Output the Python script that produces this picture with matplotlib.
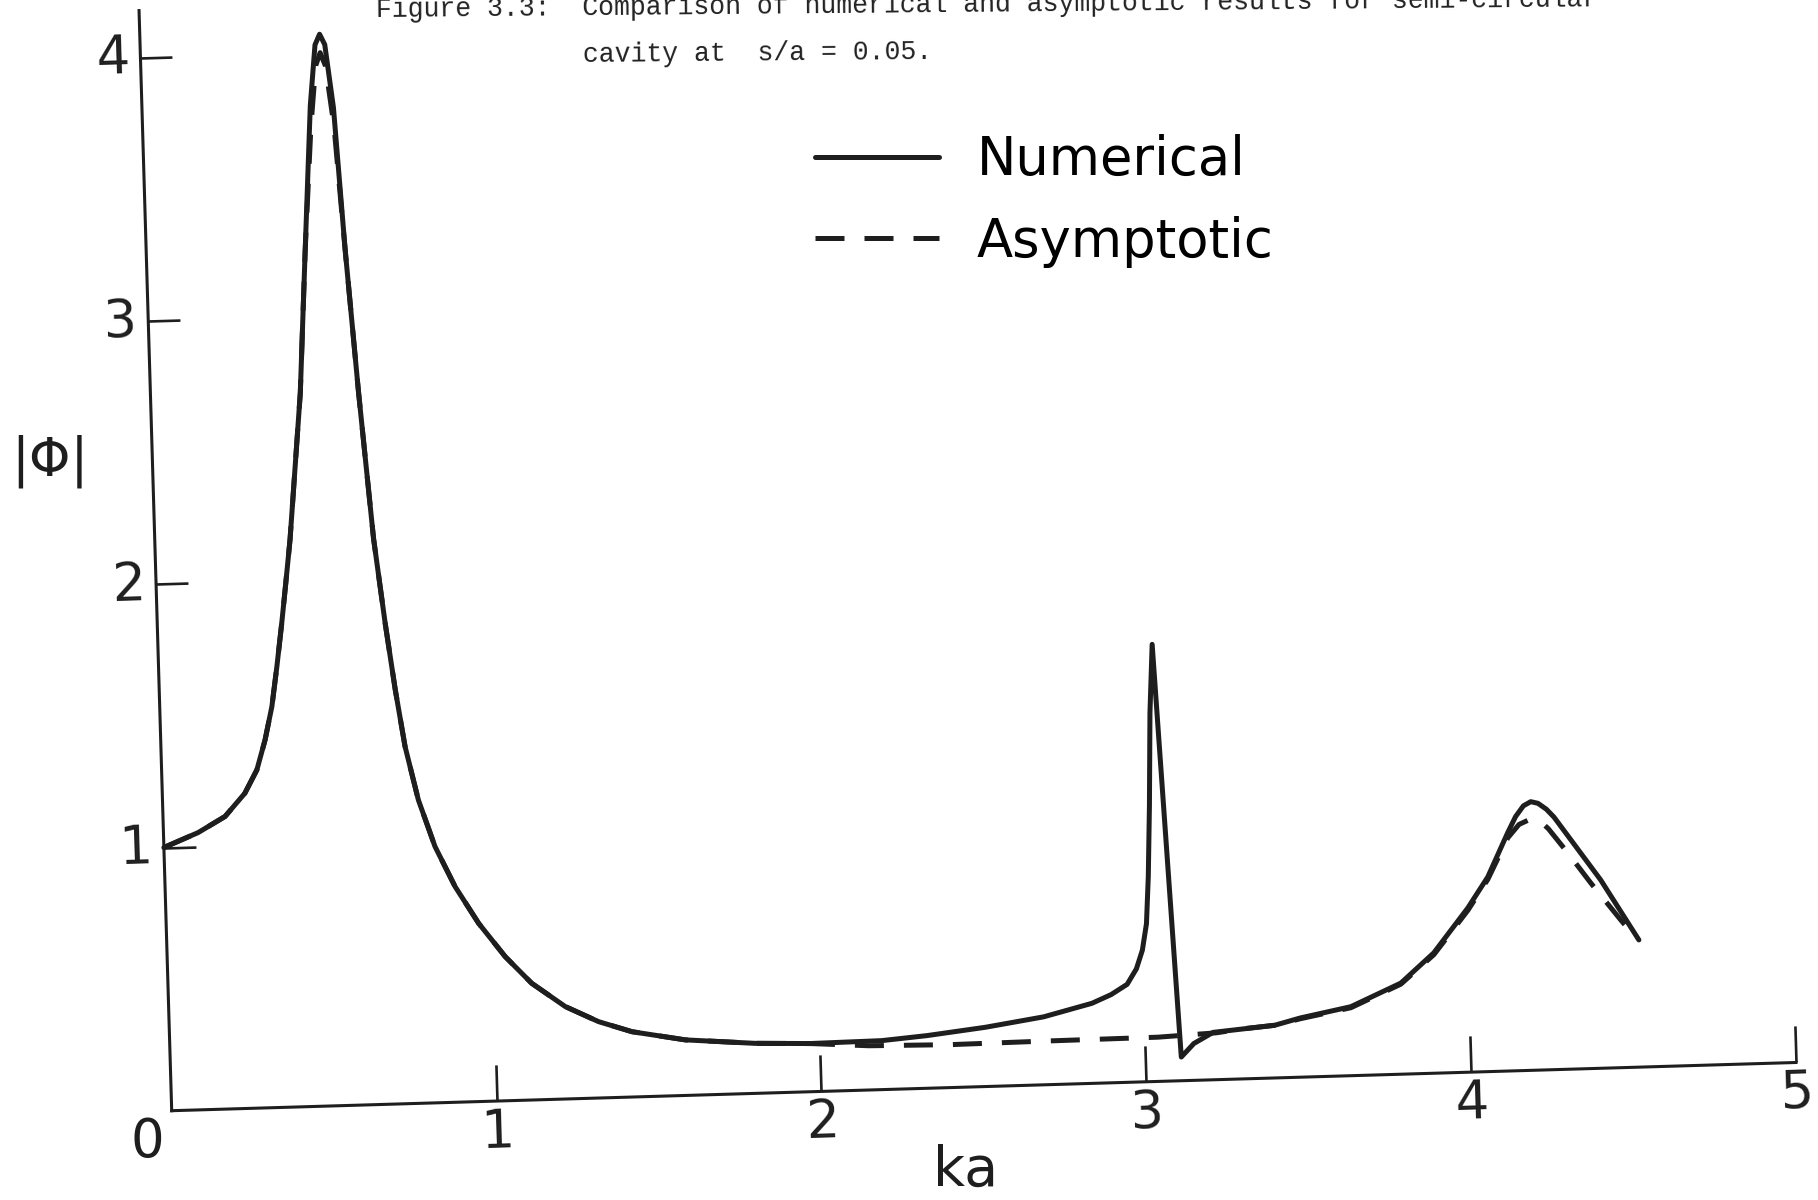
"""Figure 3.3 -- numerical vs asymptotic |phi| for a semi-circular cavity, s/a = 0.05.

The source is a hand-lettered plot that was scanned slightly turned, so the axes are a
floating (rotated) axisartist frame instead of a plain rectangle.
"""
import matplotlib

matplotlib.use("Agg")
import matplotlib.pyplot as plt
from matplotlib.transforms import Affine2D
import mpl_toolkits.axisartist.floating_axes as floating_axes
from mpl_toolkits.axisartist.grid_finder import DictFormatter, FixedLocator

# (ka, |phi|)
KA_NUM = [0.00, 0.107, 0.191, 0.254, 0.293, 0.321, 0.345, 0.364, 0.383, 0.399, 0.416,
          0.461, 0.489, 0.518, 0.538, 0.553, 0.568, 0.589, 0.612, 0.640, 0.673, 0.701,
          0.726, 0.751, 0.787, 0.834, 0.892, 0.961, 1.04, 1.119, 1.22, 1.321, 1.423, 1.586,
          1.80, 1.97, 2.19, 2.33, 2.51, 2.69, 2.84, 2.90, 2.95, 2.98, 3.00, 3.015, 3.025,
          3.035, 3.045, 3.058, 3.11, 3.15, 3.21, 3.40, 3.48, 3.636, 3.792, 3.896, 4.005,
          4.069, 4.134, 4.16, 4.185, 4.208, 4.23, 4.255, 4.278, 4.416, 4.528]
PHI_NUM = [1.00, 1.053, 1.111, 1.197, 1.284, 1.397, 1.523, 1.674, 1.839, 1.99, 2.154,
           2.71, 3.25, 3.80, 4.03, 4.07, 4.03, 3.79, 3.25, 2.71, 2.15, 1.827,
           1.573, 1.356, 1.152, 0.973, 0.819, 0.677, 0.547, 0.443, 0.351, 0.29, 0.248, 0.211,
           0.19, 0.183, 0.186, 0.20, 0.225, 0.258, 0.304, 0.335, 0.372, 0.43, 0.50, 0.60, 0.78,
           1.05, 1.40, 1.66, 0.09, 0.14, 0.18, 0.20, 0.225, 0.262, 0.346, 0.457, 0.624,
           0.739, 0.904, 0.965, 1.005, 1.02, 1.013, 0.99, 0.959, 0.715, 0.483]

KA_ASY = [0.00, 0.107, 0.191, 0.254, 0.293, 0.321, 0.345, 0.364, 0.383, 0.399, 0.416,
          0.461, 0.489, 0.518, 0.538, 0.553, 0.568, 0.589, 0.612, 0.640, 0.673, 0.701,
          0.726, 0.751, 0.787, 0.834, 0.892, 0.961, 1.04, 1.119, 1.22, 1.321, 1.423, 1.586,
          1.80, 1.97, 2.15, 2.40, 2.70, 3.04, 3.22, 3.30, 3.40, 3.48, 3.636, 3.792, 3.896,
          4.005, 4.069, 4.134, 4.17, 4.208, 4.235, 4.26, 4.317, 4.385, 4.474, 4.50]
PHI_ASY = [1.00, 1.053, 1.111, 1.197, 1.284, 1.397, 1.523, 1.674, 1.839, 1.99, 2.154,
           2.71, 3.25, 3.72, 3.95, 4.00, 3.95, 3.72, 3.25, 2.71, 2.15, 1.827,
           1.573, 1.356, 1.152, 0.973, 0.819, 0.677, 0.547, 0.443, 0.351, 0.29, 0.248, 0.211,
           0.19, 0.183, 0.168, 0.163, 0.166, 0.168, 0.178, 0.19, 0.20, 0.222, 0.258, 0.342,
           0.45, 0.615, 0.73, 0.885, 0.935, 0.955, 0.945, 0.915, 0.822, 0.705, 0.561, 0.52]

X_TICKS = [1, 2, 3, 4, 5]
Y_TICKS = [1, 2, 3, 4]
TITLE_1 = "Figure 3.3:  Comparison of numerical and asymptotic results for semi-circular"
TITLE_2 = "cavity at  s/a = 0.05."

W, H, DPI = 1818, 1200, 100
ORIGIN = (171.7, H - 1110.7)   # pixel spot of (0, 0), measured from bottom-left
UNIT_X, UNIT_Y = 325.0, 263.3  # pixels per data unit
TILT = 1.7                     # degrees the scanned plot is turned
X_MAX, Y_MAX = 5.0, 4.18
INK = "#1e1e1e"
LETTERING = ["DejaVu Sans"]
LW = 3.6

fig = plt.figure(figsize=(W / DPI, H / DPI), dpi=DPI)
tr = Affine2D().scale(UNIT_X, UNIT_Y).rotate_deg(TILT)
helper = floating_axes.GridHelperCurveLinear(
    tr, extremes=(0, X_MAX, 0, Y_MAX),
    grid_locator1=FixedLocator(X_TICKS), grid_locator2=FixedLocator(Y_TICKS),
    tick_formatter1=DictFormatter({v: str(v) for v in X_TICKS}),
    tick_formatter2=DictFormatter({v: str(v) for v in Y_TICKS}))

# floating axes keep aspect 1 and pad the limits by 2%; size the box so 1 unit = 1 pixel
corners = tr.transform([(0, 0), (X_MAX, 0), (0, Y_MAX), (X_MAX, Y_MAX)])
(x0, y0), (x1, y1) = corners.min(axis=0), corners.max(axis=0)
bw, bh = 1.02 * (x1 - x0), 1.02 * (y1 - y0)
cx, cy = ORIGIN[0] + (x0 + x1) / 2, ORIGIN[1] + (y0 + y1) / 2
ax = fig.add_axes([(cx - bw / 2) / W, (cy - bh / 2) / H, bw / W, bh / H],
                  axes_class=floating_axes.FloatingAxes, grid_helper=helper)
aux = ax.get_aux_axes(tr)

for side in ("top", "right"):
    ax.axis[side].set_visible(False)
for side, size, pad in (("bottom", 26, 5), ("left", 23, 8)):
    axis = ax.axis[side]
    axis.line.set_linewidth(2.2)
    axis.line.set_color(INK)
    axis.major_ticks.set_tick_out(False)
    axis.major_ticks.set_ticksize(size)
    axis.major_ticks.set_markeredgewidth(1.9)
    axis.major_ticks.set_color(INK)
    axis.minor_ticks.set_visible(False)
    axis.major_ticklabels.set_fontsize(38)
    axis.major_ticklabels.set_fontfamily(LETTERING)
    axis.major_ticklabels.set_color(INK)
    axis.major_ticklabels.set_pad(pad)

num_line, = aux.plot(KA_NUM, PHI_NUM, color=INK, lw=LW, solid_joinstyle="round",
                     solid_capstyle="round", label="Numerical")
asy_line, = aux.plot(KA_ASY, PHI_ASY, color=INK, lw=LW, linestyle=(0, (5.8, 4.0)),
                     label="Asymptotic")
aux.annotate("0", xy=(0, 0), xytext=(-24, -31), textcoords="offset pixels",
             ha="center", va="center", fontsize=38, family=LETTERING, color=INK)

ax.legend(handles=[num_line, asy_line], loc="upper left",
          bbox_to_anchor=(815 / W, 1 - 134 / H), bbox_transform=fig.transFigure,
          frameon=False, prop={"family": LETTERING, "size": 38}, handlelength=2.35,
          handletextpad=0.72, labelspacing=0.56, borderpad=0, borderaxespad=0)

fig.text(50 / W, 1 - 461 / H, "|Φ|", fontsize=38, family=LETTERING, color=INK,
         ha="center", va="center")
fig.text(966 / W, 1 - 1171 / H, "ka", fontsize=40, family=LETTERING, color=INK,
         ha="center", va="center")
for text, x, y in ((TITLE_1, 376, 16.7), (TITLE_2, 583, 62)):
    fig.text(x / W, 1 - y / H, text, family="Liberation Mono", fontsize=19.1, color="#222222",
             ha="left", va="baseline", rotation=0.5, rotation_mode="anchor")

fig.savefig("out.png", dpi=DPI)
plt.close(fig)
